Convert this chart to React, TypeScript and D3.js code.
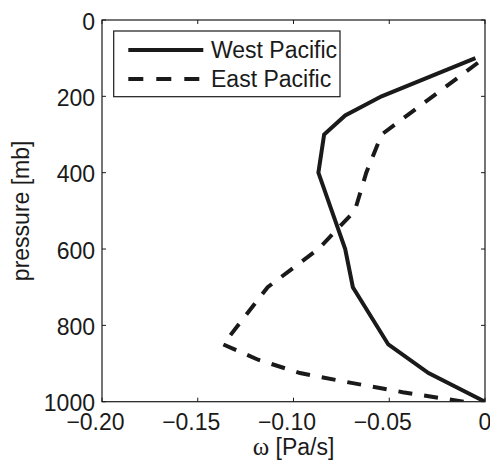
import React from "react";
import * as d3 from "d3";

const xTicks = [-0.2, -0.15, -0.1, -0.05, 0];
const xTickLabels = ["\u22120.20", "\u22120.15", "\u22120.10", "\u22120.05", "0"];
const yTicks = [0, 200, 400, 600, 800, 1000];

const pressureWest = [100, 200, 250, 300, 400, 500, 600, 700, 850, 925, 1000];
const omegaWest = [-0.005, -0.054, -0.073, -0.084, -0.087, -0.08, -0.073, -0.069, -0.0505, -0.0295, 0];

const pressureEast = [112, 300, 400, 500, 600, 700, 850, 890, 925, 950, 975, 1000];
const omegaEast = [-0.0037, -0.054, -0.062, -0.068, -0.087, -0.1135, -0.1367, -0.1185, -0.0966, -0.0705, -0.043, -0.011];

const seriesNames = ["West Pacific", "East Pacific"];

const W = 490;
const H = 461;
const L = 102, R = 485, T = 20, B = 401.7;
const FONT = "'Liberation Sans', Arial, Helvetica, sans-serif";
const FS = 23;

export default function App() {
  const x = d3.scaleLinear().domain([-0.2, 0]).range([L, R]);
  const y = d3.scaleLinear().domain([0, 1000]).range([T, B]);
  const line = d3
    .line<[number, number]>()
    .x((d) => x(d[0]))
    .y((d) => y(d[1]));
  const west: [number, number][] = omegaWest.map((v, i) => [v, pressureWest[i]]);
  const east: [number, number][] = omegaEast.map((v, i) => [v, pressureEast[i]]);
  const tl = 4;

  return (
    <svg width={W} height={H} style={{ position: "absolute", left: 0, top: 0 }}>
      <rect x={0} y={0} width={W} height={H} fill="#fff" />
      <defs>
        <clipPath id="clip">
          <rect x={L} y={T} width={R - L} height={B - T} />
        </clipPath>
      </defs>
      <g clipPath="url(#clip)">
        <path d={line(west) || ""} fill="none" stroke="#1a1a1a" strokeWidth={4} strokeLinejoin="miter" />
        <path d={line(east) || ""} fill="none" stroke="#1a1a1a" strokeWidth={4} strokeDasharray="14,12" />
      </g>
      {/* frame */}
      <rect x={L} y={T} width={R - L} height={B - T} fill="none" stroke="#1a1a1a" strokeWidth={1.2} />
      {/* x ticks */}
      {xTicks.map((t, i) => (
        <g key={"x" + i}>
          <line x1={x(t)} x2={x(t)} y1={B} y2={B - tl} stroke="#1a1a1a" strokeWidth={1} />
          <line x1={x(t)} x2={x(t)} y1={T} y2={T + tl} stroke="#1a1a1a" strokeWidth={1} />
          <text
            x={x(t) + (t < 0 ? -6.5 : 0)}
            y={430}
            textAnchor="middle"
            fontFamily={FONT}
            fontSize={FS}
            fill="#1a1a1a"
          >
            {xTickLabels[i]}
          </text>
        </g>
      ))}
      {/* y ticks */}
      {yTicks.map((t, i) => (
        <g key={"y" + i}>
          <line x1={L} x2={L + tl} y1={y(t)} y2={y(t)} stroke="#1a1a1a" strokeWidth={1} />
          <line x1={R} x2={R - tl} y1={y(t)} y2={y(t)} stroke="#1a1a1a" strokeWidth={1} />
          <text
            x={95}
            y={y(t) + 9.5}
            textAnchor="end"
            fontFamily={FONT}
            fontSize={FS}
            fill="#1a1a1a"
          >
            {t}
          </text>
        </g>
      ))}
      {/* axis labels */}
      <text x={(L + R) / 2} y={455} textAnchor="middle" fontFamily={FONT} fontSize={FS} fill="#1a1a1a">
        <tspan fontFamily="'Liberation Serif', 'Times New Roman', serif" fontSize={25}>ω</tspan> [Pa/s]
      </text>
      <text
        transform={`translate(29,${(T + B) / 2}) rotate(-90)`}
        textAnchor="middle"
        fontFamily={FONT}
        fontSize={FS}
        fill="#1a1a1a"
      >
        pressure [mb]
      </text>
      {/* legend */}
      <rect x={113.7} y={31} width={226.3} height={65.7} fill="#fff" stroke="#1a1a1a" strokeWidth={1.2} />
      <line x1={128.3} x2={203.3} y1={50} y2={50} stroke="#1a1a1a" strokeWidth={4} />
      <line x1={128.3} x2={203.3} y1={79} y2={79} stroke="#1a1a1a" strokeWidth={4} strokeDasharray="15,13" />
      <text x={211} y={58.3} fontFamily={FONT} fontSize={FS} fill="#1a1a1a">
        {seriesNames[0]}
      </text>
      <text x={211} y={87.3} fontFamily={FONT} fontSize={FS} fill="#1a1a1a">
        {seriesNames[1]}
      </text>
    </svg>
  );
}
